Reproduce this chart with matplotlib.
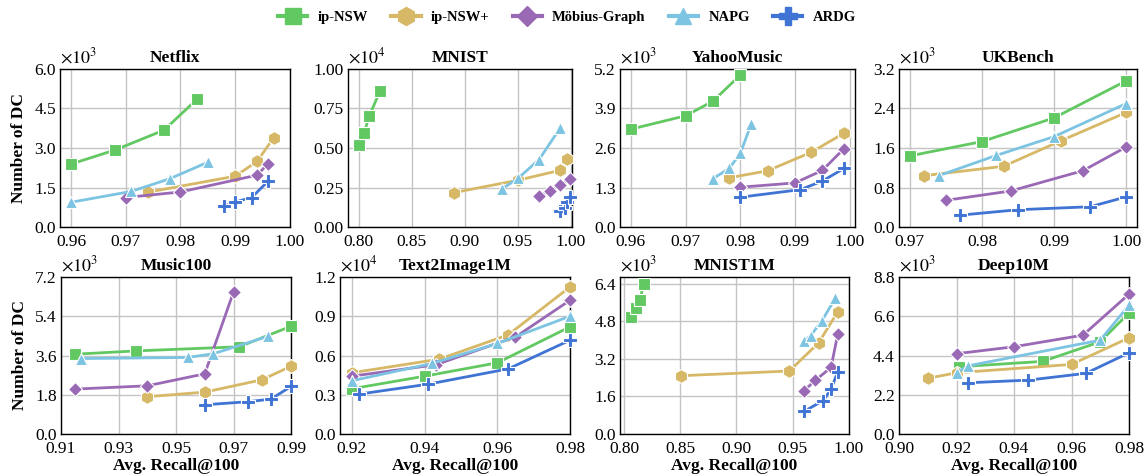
import numpy as np
import matplotlib
matplotlib.use("Agg")
import matplotlib.pyplot as plt
from matplotlib.lines import Line2D

plt.rcParams['font.family'] = ['Liberation Serif', 'DejaVu Serif']
plt.rcParams['mathtext.fontset'] = 'stix'

# --- datos (recall, número de cálculos de distancia) ---
methods = ['ip-NSW', 'ip-NSW+', 'Möbius-Graph', 'NAPG', 'ARDG']
colors = ['#62c862', '#d6b866', '#9a69b6', '#7cc4e2', '#3f73d4']
markers = ['s', 'h', 'D', '^', 'P']
msizes = [9, 10, 7.5, 8.5, 10]

netflix_x = [[0.960, 0.968, 0.977, 0.983], [0.974, 0.990, 0.994, 0.997],
             [0.970, 0.980, 0.994, 0.996], [0.960, 0.971, 0.978, 0.985],
             [0.988, 0.990, 0.993, 0.996]]
netflix_y = [[2390, 2920, 3680, 4850], [1320, 1930, 2490, 3390],
             [1120, 1330, 1970, 2410], [940, 1350, 1830, 2460],
             [800, 950, 1120, 1740]]

mnist_x = [[0.800, 0.805, 0.810, 0.820], [0.890, 0.950, 0.990, 0.996],
           [0.970, 0.980, 0.990, 0.999], [0.935, 0.950, 0.970, 0.990],
           [0.990, 0.994, 0.996, 0.999]]
mnist_y = [[5160, 5920, 7020, 8580], [2180, 2960, 3590, 4290],
           [1990, 2260, 2640, 3040], [2410, 3070, 4270, 6280],
           [990, 1200, 1600, 1900]]

yahoo_x = [[0.960, 0.970, 0.975, 0.980], [0.978, 0.985, 0.993, 0.999],
           [0.980, 0.990, 0.995, 0.999], [0.975, 0.978, 0.980, 0.982],
           [0.980, 0.991, 0.995, 0.999]]
yahoo_y = [[3220, 3660, 4140, 5000], [1620, 1850, 2460, 3090],
           [1310, 1450, 1860, 2580], [1590, 1930, 2420, 3380],
           [980, 1230, 1510, 1930]]

ukbench_x = [[0.970, 0.980, 0.990, 1.000], [0.972, 0.983, 0.991, 1.000],
             [0.975, 0.984, 0.994, 1.000], [0.974, 0.982, 0.990, 1.000],
             [0.977, 0.985, 0.995, 1.000]]
ukbench_y = [[1440, 1730, 2210, 2960], [1040, 1230, 1750, 2320],
             [540, 730, 1140, 1620], [1040, 1450, 1830, 2500],
             [240, 350, 410, 610]]

music_x = [[0.915, 0.936, 0.972, 0.990], [0.940, 0.960, 0.980, 0.990],
           [0.915, 0.940, 0.960, 0.970], [0.917, 0.954, 0.963, 0.982],
           [0.960, 0.975, 0.983, 0.990]]
music_y = [[3660, 3810, 4000, 4940], [1710, 1920, 2490, 3110],
           [2060, 2210, 2760, 6510], [3460, 3510, 3680, 4480],
           [1340, 1480, 1600, 2180]]

t2i_x = [[0.920, 0.940, 0.960, 0.980], [0.920, 0.944, 0.963, 0.980],
         [0.920, 0.943, 0.965, 0.980], [0.920, 0.942, 0.960, 0.980],
         [0.922, 0.941, 0.963, 0.980]]
t2i_y = [[3460, 4420, 5440, 8190], [4680, 5720, 7580, 11240],
         [4420, 5290, 7420, 10220], [4070, 5390, 6920, 9000],
         [3050, 3810, 4980, 7170]]

mnist1m_x = [[0.806, 0.811, 0.814, 0.818], [0.851, 0.947, 0.973, 0.990],
             [0.960, 0.970, 0.984, 0.990], [0.960, 0.966, 0.976, 0.988],
             [0.960, 0.977, 0.984, 0.990]]
mnist1m_y = [[4990, 5340, 5720, 6400], [2480, 2680, 3880, 5200],
             [1840, 2280, 2830, 4240], [3940, 4190, 4820, 5790],
             [960, 1420, 1900, 2650]]

deep_x = [[0.921, 0.950, 0.970, 0.980], [0.910, 0.920, 0.960, 0.980],
          [0.920, 0.940, 0.964, 0.980], [0.920, 0.924, 0.970, 0.980],
          [0.924, 0.945, 0.965, 0.980]]
deep_y = [[3770, 4070, 5170, 6790], [3120, 3430, 3900, 5390],
          [4500, 4890, 5540, 7840], [3430, 3820, 5260, 7220],
          [2870, 3020, 3400, 4550]]

# (título, x, y, escala, yticks, formato, xlim, xticks, ylim superior, posición en px)
paneles = [
    ('Netflix', netflix_x, netflix_y, 3, [0, 1.5, 3.0, 4.5, 6.0], '%.1f',
     (0.958, 1.0), [0.96, 0.97, 0.98, 0.99, 1.00], 6.0, (60, 290, 69, 227)),
    ('MNIST', mnist_x, mnist_y, 4, [0, 0.25, 0.5, 0.75, 1.0], '%.2f',
     (0.79, 1.001), [0.80, 0.85, 0.90, 0.95, 1.00], 1.0, (348, 572, 69, 227)),
    ('YahooMusic', yahoo_x, yahoo_y, 3, [0, 1.3, 2.6, 3.9, 5.2], '%.1f',
     (0.958, 1.001), [0.96, 0.97, 0.98, 0.99, 1.00], 5.2, (620, 855, 69, 227)),
    ('UKBench', ukbench_x, ukbench_y, 3, [0, 0.8, 1.6, 2.4, 3.2], '%.1f',
     (0.9685, 1.0015), [0.97, 0.98, 0.99, 1.00], 3.2, (899, 1137, 69, 227)),
    ('Music100', music_x, music_y, 3, [0, 1.8, 3.6, 5.4, 7.2], '%.1f',
     (0.91, 0.99), [0.91, 0.93, 0.95, 0.97, 0.99], 7.2, (61, 291, 277, 434)),
    ('Text2Image1M', t2i_x, t2i_y, 4, [0, 0.3, 0.6, 0.9, 1.2], '%.1f',
     (0.9167, 0.98), [0.92, 0.94, 0.96, 0.98], 1.2, (340, 570, 277, 434)),
    ('MNIST1M', mnist1m_x, mnist1m_y, 3, [0, 1.6, 3.2, 4.8, 6.4], '%.1f',
     (0.7965, 1.0), [0.80, 0.85, 0.90, 0.95, 1.00], 6.68, (620, 849, 277, 434)),
    ('Deep10M', deep_x, deep_y, 3, [0, 2.2, 4.4, 6.6, 8.8], '%.1f',
     (0.90, 0.98), [0.90, 0.92, 0.94, 0.96, 0.98], 8.8, (899, 1129, 277, 434)),
]

W, H = 1144, 476
fig = plt.figure(figsize=(W / 100, H / 100), dpi=100)

for i, (tit, xs, ys, esc, yt, fmt, xl, xt, ytop, (l, r, t, b)) in enumerate(paneles):
    ax = fig.add_axes([l / W, (H - b) / H, (r - l) / W, (b - t) / H])
    for k in range(len(methods)):
        ax.plot(xs[k], np.array(ys[k]) / 10 ** esc, color=colors[k], lw=2,
                marker=markers[k], ms=msizes[k], mec='white', mew=0.8,
                clip_on=False, zorder=3 + k)
    ax.set_xlim(*xl)
    ax.set_ylim(0, ytop)
    ax.set_xticks(xt)
    ax.set_xticklabels(['%.2f' % v for v in xt])
    ax.set_yticks(yt)
    ax.set_yticklabels([fmt % v for v in yt])
    ax.tick_params(length=0, labelsize=12.5)
    ax.tick_params(axis='x', pad=5)
    ax.tick_params(axis='y', pad=3)
    ax.grid(True, color='#c4c4c4', lw=1)
    ax.set_axisbelow(True)
    for s in ax.spines.values():
        s.set_linewidth(1.0)
    ax.set_title(tit, fontsize=12.5, fontweight='bold', pad=5)
    ax.text(0.0, 1.01, r'$\times10^{%d}$' % esc, transform=ax.transAxes,
            fontsize=13, ha='left', va='bottom')
    if i % 4 == 0:
        ax.set_ylabel('Number of DC', fontsize=12.5, fontweight='bold', labelpad=5)
    if i >= 4:
        ax.set_xlabel('Avg. Recall@100', fontsize=12.5, fontweight='bold', labelpad=1)

handles = [Line2D([], [], color=colors[k], lw=3, marker=markers[k],
                  ms=msizes[k] + 3, mec=colors[k]) for k in range(len(methods))]
fig.legend(handles, methods, loc='center', bbox_to_anchor=(567 / W, 1 - 17 / H),
           ncol=5, frameon=False, prop={'weight': 'bold', 'size': 10.5},
           handlelength=2.0, columnspacing=1.6, handletextpad=0.7,
           borderpad=0, borderaxespad=0)

fig.savefig('out.png', dpi=100)
